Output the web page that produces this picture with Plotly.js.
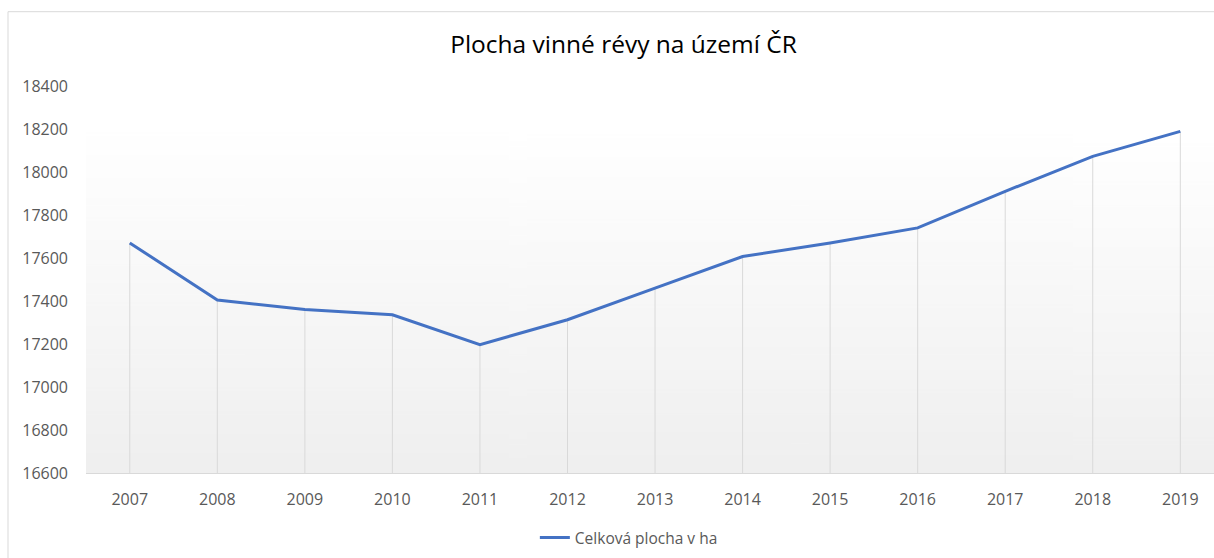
<!DOCTYPE html>
<html>
<head>
<meta charset="utf-8">
<script src="https://cdn.plot.ly/plotly-3.0.1.min.js"></script>
<style>
  html, body { margin: 0; padding: 0; background: #ffffff; }
  #chart { width: 1214px; height: 558px; }
</style>
</head>
<body>
<div id="chart"></div>
<script>
// ---- data ----
const years = ['2007','2008','2009','2010','2011','2012','2013','2014','2015','2016','2017','2018','2019'];
const area = [17670, 17405, 17360, 17336, 17197, 17313, 17460, 17607, 17670, 17740, 17910, 18073, 18189];
const yTicks = [16600, 16800, 17000, 17200, 17400, 17600, 17800, 18000, 18200, 18400];
const seriesName = 'Celková plocha v ha';
const chartTitle = 'Plocha vinné révy na území ČR';

// vertical gradient for plot background
function gradientURL() {
  const c = document.createElement('canvas');
  c.width = 4; c.height = 400;
  const g = c.getContext('2d');
  const grd = g.createLinearGradient(0, 0, 0, 400);
  grd.addColorStop(0, '#ffffff');
  grd.addColorStop(0.12, '#ffffff');
  grd.addColorStop(1, '#efefef');
  g.fillStyle = grd;
  g.fillRect(0, 0, 4, 400);
  return c.toDataURL('image/png');
}

const base = yTicks[0];

const dropLines = {
  x: years,
  y: area,
  type: 'scatter',
  mode: 'markers',
  marker: { size: 1, opacity: 0 },
  showlegend: false,
  hoverinfo: 'skip',
  error_y: {
    type: 'data',
    symmetric: false,
    array: area.map(() => 0),
    arrayminus: area.map(v => v - base),
    width: 0,
    thickness: 1,
    color: '#d9d9d9'
  }
};

const mainLine = {
  x: years,
  y: area,
  type: 'scatter',
  mode: 'lines',
  name: seriesName,
  line: { color: '#4472c4', width: 3 }
};

const bx = (8 - 86) / 1128;          // chart border left (paper units)
const by = (473.3 - 12) / 387;       // chart border top (paper units)

const layout = {
  width: 1214,
  height: 558,
  margin: { l: 86, r: 0, t: 86, b: 85 },
  paper_bgcolor: '#ffffff',
  plot_bgcolor: 'rgba(0,0,0,0)',
  font: { family: '"Open Sans", "Noto Sans", sans-serif', color: '#595959', size: 16 },
  title: {
    text: chartTitle,
    font: { family: '"Open Sans", "Noto Sans", sans-serif', size: 24.5, color: '#000000' },
    xref: 'container', x: 0.5136, xanchor: 'center',
    yref: 'container', y: 1 - 44 / 558, yanchor: 'middle'
  },
  xaxis: {
    type: 'category',
    range: [-0.5, 12.385],
    showgrid: false,
    zeroline: false,
    showline: true,
    linecolor: '#d9d9d9',
    linewidth: 1,
    ticks: '',
    ticklabelstandoff: 12,
    tickfont: { size: 16, color: '#595959' },
    fixedrange: true
  },
  yaxis: {
    range: [yTicks[0], yTicks[yTicks.length - 1]],
    tickvals: yTicks,
    ticktext: yTicks.map(String),
    showgrid: false,
    zeroline: false,
    showline: false,
    ticks: '',
    ticklabelstandoff: 17,
    tickfont: { size: 16, color: '#595959' },
    fixedrange: true
  },
  showlegend: true,
  legend: {
    orientation: 'h',
    xref: 'container', x: 0.518, xanchor: 'center',
    yref: 'container', y: 1 - 538 / 558, yanchor: 'middle',
    font: { size: 15.5, color: '#595959' },
    bgcolor: 'rgba(0,0,0,0)'
  },
  images: [{
    source: gradientURL(),
    xref: 'paper', yref: 'paper',
    x: 0, y: 1, sizex: 1, sizey: 1,
    xanchor: 'left', yanchor: 'top',
    sizing: 'stretch',
    layer: 'below'
  }],
  shapes: [
    { type: 'line', xref: 'paper', yref: 'paper', x0: bx, x1: bx, y0: -0.5, y1: by,
      line: { color: '#d9d9d9', width: 1 }, layer: 'below' },
    { type: 'line', xref: 'paper', yref: 'paper', x0: bx, x1: 1.5, y0: by, y1: by,
      line: { color: '#d9d9d9', width: 1 }, layer: 'below' }
  ]
};

Plotly.newPlot('chart', [dropLines, mainLine], layout, { displayModeBar: false, staticPlot: true });
</script>
</body>
</html>
